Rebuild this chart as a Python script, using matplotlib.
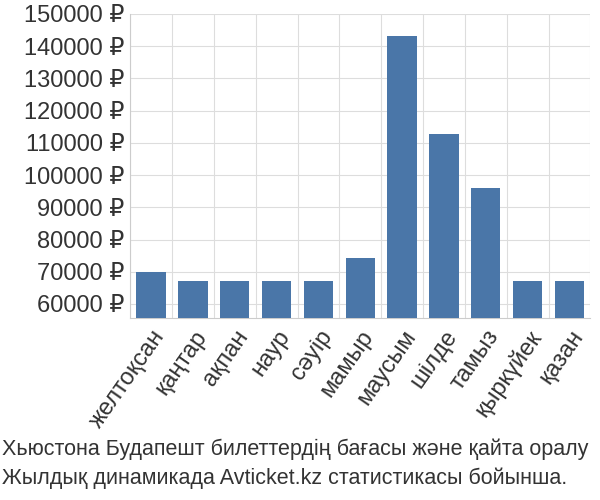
import matplotlib
matplotlib.use("Agg")
import matplotlib.pyplot as plt
import numpy as np

plt.rcParams["font.family"] = ["Liberation Sans", "DejaVu Sans"]

months = ["желтоқсан", "қаңтар", "ақпан", "наур", "сәуір", "мамыр", "маусым", "шілде", "тамыз", "қыркүйек", "қазан"]
prices = [70000, 67000, 67000, 67000, 67000, 74300, 143200, 112700, 96000, 67000, 67000]
yticks = [60000, 70000, 80000, 90000, 100000, 110000, 120000, 130000, 140000, 150000]
ymin, ymax = 55650, 150000

fig = plt.figure(figsize=(6, 5), dpi=100)
ax = fig.add_axes([0.217, 0.364, 0.767, 0.608])
x = np.arange(len(months))
vals = np.array(prices)
ax.bar(x, vals - ymin, bottom=ymin, width=0.7, color="#4a76a8", zorder=3)
ax.set_xlim(-0.5, len(months) - 0.5)
ax.set_ylim(ymin, ymax)
ax.set_yticks(yticks)
ax.set_yticklabels([f"{v} ₽" for v in yticks], fontsize=17, color="#333333")
ax.set_xticks(x)
ax.set_xticklabels(months, rotation=55, ha="right", rotation_mode="anchor", fontsize=17, color="#333333")
ax.set_xticks(np.arange(-0.5, len(months)), minor=True)
ax.grid(True, which="minor", axis="x", color="#dddddd", zorder=0)
ax.grid(True, which="major", axis="y", color="#dddddd", zorder=0)
ax.tick_params(axis="x", which="major", length=0, pad=6)
ax.tick_params(axis="x", which="minor", length=0)
ax.tick_params(axis="y", length=0, pad=4)
for s in ["top", "right"]:
    ax.spines[s].set_visible(False)
ax.spines["left"].set_color("#cccccc")
ax.spines["bottom"].set_color("#cccccc")
fig.text(0.003, 0.09, "Хьюстона Будапешт билеттердің бағасы және қайта оралу", ha="left", fontsize=15.5, color="#333333")
fig.text(0.003, 0.032, "Жылдық динамикада Avticket.kz статистикасы бойынша.", ha="left", fontsize=15.5, color="#333333")
fig.savefig("out.png", dpi=100)
